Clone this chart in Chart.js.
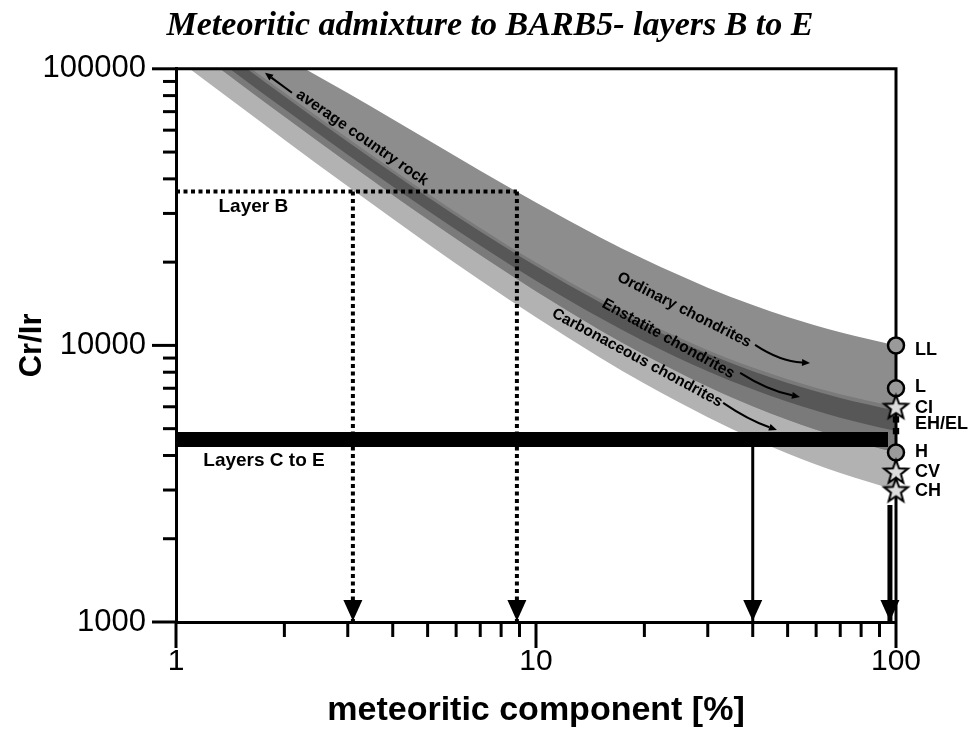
<!DOCTYPE html>
<html>
<head>
<meta charset="utf-8">
<script src="https://cdn.jsdelivr.net/npm/chart.js@4.4.1/dist/chart.umd.min.js"></script>
<style>
html,body{margin:0;padding:0;background:#fff;}
canvas{display:block;}
</style>
</head>
<body>
<canvas id="chart" width="968" height="731"></canvas>
<script>
// ---------------- data ----------------
const meteoriticPct = [1, 1.5, 2, 3, 4, 5, 7, 10, 15, 20, 30, 40, 50, 70, 100];
// carbonaceous chondrite band: CH (low) .. CI (high)
const carbonaceousLow  = [108900, 73300, 55400, 37600, 28700, 23300, 17200, 12630, 9060, 7280, 5500, 4600, 4070, 3460, 3000];
const carbonaceousHigh = [159000, 107700, 81900, 56100, 43200, 35400, 26600, 19930, 14770, 12190, 9610, 8320, 7550, 6660, 6000];
// ordinary chondrite band: H (low) .. LL (high)
const ordinaryLow  = [131600, 88700, 67200, 45700, 35000, 28570, 21210, 15690, 11400, 9250, 7100, 6030, 5390, 4650, 4100];
const ordinaryHigh = [171700, 133600, 109800, 81700, 65700, 55400, 42800, 32830, 24670, 20470, 16170, 13990, 12670, 11150, 10000];
// enstatite chondrite band: EL/EH
const enstatiteLow  = [139500, 94200, 71500, 48900, 37500, 30740, 22970, 17140, 12610, 10340, 8070, 6940, 6260, 5480, 4900];
const enstatiteHigh = [155000, 104800, 79600, 54500, 42000, 34430, 25820, 19360, 14340, 11830, 9320, 8060, 7310, 6450, 5800];

// measured samples
const layerBRatio = 36000;
const layerBPct = [3.1, 8.85];
const layersCERatio = 4570;
const layersCEPct = [40, 96.2];
const layersCEArrowTop = 2650;

// meteorite end-members at 100 %
const circleGroups = ['LL', 'L', 'H'];
const circleRatios = [10000, 7000, 4100];
const starGroups = ['CI', 'CV', 'CH'];
const starRatios = [6000, 3500, 3000];
const squareGroups = ['EH', 'EL'];
const squareRatios = [5400, 4900];
const groupLabels = ['LL', 'L', 'CI', 'EH/EL', 'H', 'CV', 'CH'];
const groupLabelRatios = [9630, 7060, 5930, 5200, 4120, 3490, 2970];

// axes
const xTickValues = [1, 10, 100];
const xTickLabels = ['1', '10', '100'];
const xMinorTicks = [2, 3, 4, 5, 6, 7, 8, 9, 20, 30, 40, 50, 60, 70, 80, 90];
const yTickValues = [1000, 10000, 100000];
const yTickLabels = ['1000', '10000', '100000'];
const yMinorTicks = [2000, 3000, 4000, 5000, 6000, 7000, 8000, 9000, 20000, 30000, 40000, 50000, 60000, 70000, 80000, 90000];

// annotations (data coordinates)
const bandLabels = ['average country rock', 'Ordinary chondrites', 'Enstatite chondrites', 'Carbonaceous chondrites'];
const bandLabelAt = [[3.29, 56300], [25.8, 13430], [23.3, 10560], [19.1, 9010]];
const bandLabelAngle = [34.7, 27, 29, 28.3];
const bandArrows = [
  [[2.10, 81900], [1.767, 96700]],
  [[40.6, 10040], [57.7, 8645]],
  [[36.9, 7955], [54.1, 6513]],
  [[33.1, 6195], [46.7, 4948]]
];
const bandArrowBend = [0, 4, 3, 2];
const layerLabels = ['Layer B', 'Layers C to E'];
const layerLabelAt = [[1.64, 31700], [1.756, 3820]];

// ---------------- helpers ----------------
const SANS = "'Liberation Sans', Arial, Helvetica, sans-serif";
const SERIF = "'Liberation Serif', 'Times New Roman', serif";

function makeStar(outer, inner, fill, stroke, lw) {
  const size = Math.ceil(outer * 2 + lw * 2 + 2);
  const c = document.createElement('canvas');
  c.width = size; c.height = size;
  const g = c.getContext('2d');
  const cx = size / 2, cy = size / 2 + 1;
  g.beginPath();
  for (let k = 0; k < 10; k++) {
    const r = k % 2 ? inner : outer;
    const a = -Math.PI / 2 + k * Math.PI / 5;
    g.lineTo(cx + r * Math.cos(a), cy + r * Math.sin(a));
  }
  g.closePath();
  g.fillStyle = fill; g.fill();
  g.lineJoin = 'miter'; g.lineWidth = lw; g.strokeStyle = stroke; g.stroke();
  return c;
}
const starImg = makeStar(12.5, 5.2, '#dcdcdc', '#000', 2);

const band = (label, values, extra) => Object.assign({
  label,
  data: meteoriticPct.map((p, i) => ({x: p, y: values[i]})),
  borderWidth: 0, borderColor: 'rgba(0,0,0,0)',
  pointRadius: 0, pointHoverRadius: 0,
  cubicInterpolationMode: 'monotone', fill: false
}, extra);

function drawArrow(ctx, x1, y1, x2, y2, bend, lw, headLen, headHalf) {
  const chord = Math.atan2(y2 - y1, x2 - x1);
  const cx = (x1 + x2) / 2 - Math.sin(chord) * bend * 2;
  const cy = (y1 + y2) / 2 + Math.cos(chord) * bend * 2;
  const ang = Math.atan2(y2 - cy, x2 - cx);
  const bx = x2 - headLen * Math.cos(ang), by = y2 - headLen * Math.sin(ang);
  ctx.lineWidth = lw;
  ctx.beginPath(); ctx.moveTo(x1, y1); ctx.quadraticCurveTo(cx, cy, bx, by); ctx.stroke();
  ctx.beginPath();
  ctx.moveTo(x2, y2);
  ctx.lineTo(bx - headHalf * Math.sin(ang), by + headHalf * Math.cos(ang));
  ctx.lineTo(bx + headHalf * Math.sin(ang), by - headHalf * Math.cos(ang));
  ctx.closePath(); ctx.fill();
}

const decorPlugin = {
  id: 'decor',
  afterDatasetsDraw(chart) {
    const {ctx, scales: {x, y}} = chart;
    ctx.save();
    ctx.fillStyle = '#000'; ctx.strokeStyle = '#000';
    // arrow heads at the ends of the reading lines
    chart.data.datasets.forEach((d, i) => {
      if (!d.arrowHead) return;
      const pts = chart.getDatasetMeta(i).data;
      const a = pts[pts.length - 2], b = pts[pts.length - 1];
      const ang = Math.atan2(b.y - a.y, b.x - a.x);
      const len = 21, half = 9.5;
      const bx = b.x - len * Math.cos(ang), by = b.y - 1 - len * Math.sin(ang);
      ctx.beginPath();
      ctx.moveTo(b.x, b.y - 1);
      ctx.lineTo(bx - half * Math.sin(ang), by + half * Math.cos(ang));
      ctx.lineTo(bx + half * Math.sin(ang), by - half * Math.cos(ang));
      ctx.closePath(); ctx.fill();
    });
    // band labels
    ctx.textAlign = 'center'; ctx.textBaseline = 'middle';
    ctx.font = 'bold 15.5px ' + SANS;
    bandLabels.forEach((t, i) => {
      const px = x.getPixelForValue(bandLabelAt[i][0]);
      const py = y.getPixelForValue(bandLabelAt[i][1]);
      ctx.save(); ctx.translate(px, py); ctx.rotate(bandLabelAngle[i] * Math.PI / 180);
      ctx.fillText(t, 0, 0); ctx.restore();
    });
    bandArrows.forEach((ar, i) => {
      drawArrow(ctx, x.getPixelForValue(ar[0][0]), y.getPixelForValue(ar[0][1]),
        x.getPixelForValue(ar[1][0]), y.getPixelForValue(ar[1][1]), bandArrowBend[i], 2, 8, 3.5);
    });
    // layer labels
    ctx.font = 'bold 19px ' + SANS;
    layerLabels.forEach((t, i) => {
      ctx.fillText(t, x.getPixelForValue(layerLabelAt[i][0]), y.getPixelForValue(layerLabelAt[i][1]));
    });
    // meteorite group labels
    ctx.textAlign = 'left';
    ctx.font = 'bold 18px ' + SANS;
    const lx = x.getPixelForValue(100) + 19;
    groupLabels.forEach((t, i) => ctx.fillText(t, lx, y.getPixelForValue(groupLabelRatios[i])));
    ctx.restore();
  },
  afterDraw(chart) {
    const {ctx, scales: {x, y}, chartArea: a} = chart;
    ctx.save();
    ctx.strokeStyle = '#000'; ctx.lineWidth = 3; ctx.lineCap = 'butt';
    const line = (x1, y1, x2, y2) => { ctx.beginPath(); ctx.moveTo(x1, y1); ctx.lineTo(x2, y2); ctx.stroke(); };
    yMinorTicks.forEach(v => { const p = y.getPixelForValue(v); line(a.left - 13, p, a.left, p); });
    yTickValues.forEach(v => { const p = y.getPixelForValue(v); line(a.left - 24, p, a.left, p); });
    xMinorTicks.forEach(v => { const p = x.getPixelForValue(v); line(p, a.bottom, p, a.bottom + 15); });
    xTickValues.forEach(v => { const p = x.getPixelForValue(v); line(p, a.bottom, p, a.bottom + 26); });
    ctx.restore();
  }
};

// ---------------- chart ----------------
const datasets = [
  band('CH edge', carbonaceousLow, {order: 30}),                                                   // 0
  band('Carbonaceous chondrites', carbonaceousHigh, {order: 29, fill: 0, backgroundColor: '#b2b2b2'}), // 1
  band('H edge', ordinaryLow, {order: 28}),                                                        // 2
  band('Ordinary chondrites', ordinaryHigh, {order: 27, fill: 2, backgroundColor: '#8d8d8d'}),     // 3
  band('Overlap', carbonaceousHigh, {order: 26, fill: 2, backgroundColor: '#7a7a7a'}),             // 4
  band('EL edge', enstatiteLow, {order: 25}),                                                      // 5
  band('Enstatite chondrites', enstatiteHigh, {order: 24, fill: 5, backgroundColor: '#575757'}),   // 6
  { // frame top + 100 % line
    label: 'frame', data: [{x: 1, y: 100000}, {x: 100, y: 100000}, {x: 100, y: 1000}],
    borderColor: '#000', borderWidth: 3, pointRadius: 0, fill: false, clip: false, order: 12,
    borderJoinStyle: 'miter'
  },
  {
    label: 'Layer B', data: [{x: 1, y: layerBRatio}, {x: layerBPct[1], y: layerBRatio}],
    borderColor: '#000', borderWidth: 4, borderDash: [4, 3.5], pointRadius: 0, fill: false, order: 11
  },
  {
    label: 'Layer B min', data: [{x: layerBPct[0], y: layerBRatio}, {x: layerBPct[0], y: 1000}],
    borderColor: '#000', borderWidth: 4, borderDash: [4, 3.5], pointRadius: 0, fill: false, order: 11, arrowHead: true
  },
  {
    label: 'Layer B max', data: [{x: layerBPct[1], y: layerBRatio}, {x: layerBPct[1], y: 1000}],
    borderColor: '#000', borderWidth: 4, borderDash: [4, 3.5], pointRadius: 0, fill: false, order: 11, arrowHead: true
  },
  {
    label: 'Layers C to E', data: [{x: 1, y: layersCERatio}, {x: 95, y: layersCERatio}],
    borderColor: '#000', borderWidth: 15, pointRadius: 0, fill: false, order: 10, borderCapStyle: 'butt'
  },
  {
    label: 'Layers C to E min', data: [{x: layersCEPct[0], y: layersCERatio}, {x: layersCEPct[0], y: 1000}],
    borderColor: '#000', borderWidth: 3, pointRadius: 0, fill: false, order: 10, arrowHead: true
  },
  {
    label: 'Layers C to E max', data: [{x: layersCEPct[1], y: layersCEArrowTop}, {x: layersCEPct[1], y: 1000}],
    borderColor: '#000', borderWidth: 5, pointRadius: 0, fill: false, order: 10, arrowHead: true
  },
  {
    label: 'circles', data: circleRatios.map(v => ({x: 100, y: v})), showLine: false,
    pointStyle: 'circle', pointRadius: 8, pointBorderWidth: 2.5,
    pointBackgroundColor: '#9a9a9a', pointBorderColor: '#000', clip: false, order: 2
  },
  {
    label: 'squares', data: squareRatios.map(v => ({x: 100, y: v})), showLine: false,
    pointStyle: 'rect', pointRadius: 4.5, pointBorderWidth: 0,
    pointBackgroundColor: '#000', pointBorderColor: '#000', clip: false, order: 1
  },
  {
    label: 'stars', data: starRatios.map(v => ({x: 100, y: v})), showLine: false,
    pointStyle: starImg, pointRadius: 10, clip: false, order: 0
  }
];

new Chart(document.getElementById('chart'), {
  type: 'line',
  data: {datasets},
  options: {
    responsive: false, animation: false, devicePixelRatio: 1, events: [],
    layout: {padding: {left: 12, right: 0, top: 0, bottom: 0}},
    plugins: {
      legend: {display: false},
      tooltip: {enabled: false},
      title: {
        display: true, text: 'Meteoritic admixture to BARB5- layers B to E', color: '#000',
        font: {family: SERIF, size: 34, weight: 'bold', style: 'italic'},
        padding: {top: 6, bottom: 22}
      }
    },
    scales: {
      x: {
        type: 'logarithmic', min: 1, max: 100,
        afterBuildTicks: s => { s.ticks = xTickValues.map(v => ({value: v})); },
        afterFit: s => { s.height = 109; },
        grid: {display: false, drawTicks: false},
        border: {display: true, color: '#000', width: 3},
        ticks: {
          padding: 22, color: '#000', autoSkip: false, maxRotation: 0,
          font: {family: SANS, size: 30},
          callback: v => xTickLabels[xTickValues.indexOf(v)]
        },
        title: {
          display: true, text: 'meteoritic component [%]', color: '#000',
          font: {family: SANS, size: 34, weight: 'bold'}, padding: {top: 3, bottom: 0}
        }
      },
      y: {
        type: 'logarithmic', min: 1000, max: 100000,
        afterBuildTicks: s => { s.ticks = yTickValues.map(v => ({value: v})); },
        afterFit: s => { s.width = 164; },
        grid: {display: false, drawTicks: false},
        border: {display: true, color: '#000', width: 3},
        ticks: {
          padding: 30, color: '#000', autoSkip: false,
          font: {family: SANS, size: 31},
          callback: v => yTickLabels[yTickValues.indexOf(v)]
        },
        title: {
          display: true, text: 'Cr/Ir', color: '#000',
          font: {family: SANS, size: 31, weight: 'bold'}, padding: {top: 2, bottom: 0}
        }
      },
      yLabels: {
        type: 'linear', position: 'right', min: 0, max: 1,
        afterFit: s => { s.width = 72; },
        grid: {display: false, drawTicks: false},
        border: {display: false},
        ticks: {display: false}
      }
    }
  },
  plugins: [decorPlugin]
});
</script>
</body>
</html>
